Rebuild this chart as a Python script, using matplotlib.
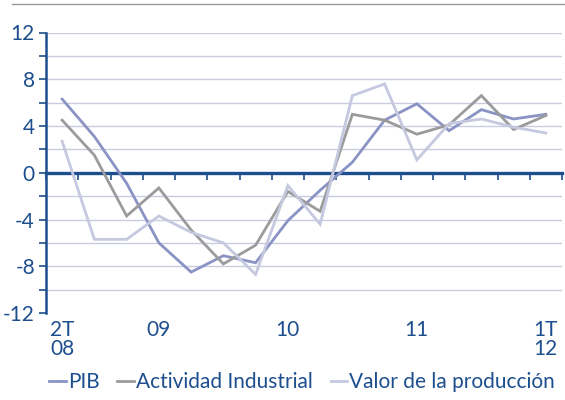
import matplotlib
matplotlib.use("Agg")
import matplotlib.pyplot as plt
from matplotlib.lines import Line2D
import numpy as np

categories = ["2T\n08", "3T08", "4T08", "09", "2T09", "3T09", "4T09", "10",
              "2T10", "3T10", "4T10", "11", "2T11", "3T11", "4T11", "1T\n12"]
shown_labels = {0: "2T\n08", 3: "09", 7: "10", 11: "11", 15: "1T\n12"}

pib = [6.3, 3.1, -0.9, -6.0, -8.5, -7.1, -7.7, -4.1,
       -1.5, 0.9, 4.5, 5.9, 3.6, 5.4, 4.6, 5.0]
actividad = [4.5, 1.5, -3.7, -1.3, -4.9, -7.8, -6.2, -1.6,
             -3.3, 5.0, 4.5, 3.3, 4.1, 6.6, 3.7, 4.9]
valor = [2.7, -5.7, -5.7, -3.7, -5.1, -6.0, -8.7, -1.1,
         -4.4, 6.6, 7.6, 1.1, 4.2, 4.6, 3.9, 3.4]

series_names = ["PIB", "Actividad Industrial", "Valor de la producción"]
colors = ["#8a93c4", "#9b9b9b", "#c5c8df"]

blue = "#1d4f8f"
grid_c = "#c9cce0"

plt.rcParams['font.family'] = ['Lato', 'DejaVu Sans']

fig = plt.figure(figsize=(5.65, 4.0), dpi=100)
ax = fig.add_axes([46/565, 1-313/400, (562-46)/565, (313-32.5)/400])

x = np.arange(len(categories))
for vals, name, c in zip([pib, actividad, valor], series_names, colors):
    ax.plot(x, vals, color=c, lw=2.0, label=name, solid_joinstyle='miter', zorder=3)

ax.set_xlim(-0.5, len(categories) - 0.5)
ax.set_ylim(-12, 12)

# gridlines
for yv in range(-10, 13, 2):
    if yv != 0:
        ax.axhline(yv, color=grid_c, lw=1.0, zorder=1)

# y axis
ax.spines['left'].set_color(blue)
ax.spines['left'].set_linewidth(1.8)
ax.spines['right'].set_visible(False)
ax.spines['top'].set_visible(False)
ax.set_yticks(np.arange(-12, 13, 2))
ax.set_yticklabels([str(v) if v % 4 == 0 else "" for v in range(-12, 13, 2)])
ax.tick_params(axis='y', colors=blue, labelcolor=blue, length=5, width=1.2,
               labelsize=15, pad=3)

# zero axis with category boundary ticks
ax.spines['bottom'].set_position(('data', 0))
ax.spines['bottom'].set_color(blue)
ax.spines['bottom'].set_linewidth(2.4)
ax.set_xticks(np.arange(-0.5, len(categories), 1.0))
ax.set_xticklabels([])
ax.tick_params(axis='x', colors=blue, length=5, width=1.2, direction='out')

# category labels at bottom
sec = ax.secondary_xaxis('bottom')
sec.spines['bottom'].set_visible(False)
sec.set_xticks(list(shown_labels.keys()))
sec.set_xticklabels(list(shown_labels.values()), linespacing=0.95)
sec.tick_params(axis='x', length=0, pad=5, labelsize=15, labelcolor=blue)

# top rule
fig.add_artist(Line2D([12/565, 1.0], [1-4/400, 1-4/400], color="#9a9a9a", lw=1.0))

leg = fig.legend(loc='center', bbox_to_anchor=(0.535, 0.045), ncol=3, frameon=False,
                 handlelength=0.8, handletextpad=0.1, columnspacing=0.85,
                 fontsize=15, borderpad=0)
for t in leg.get_texts():
    t.set_color(blue)

fig.savefig("out.png", dpi=100)
